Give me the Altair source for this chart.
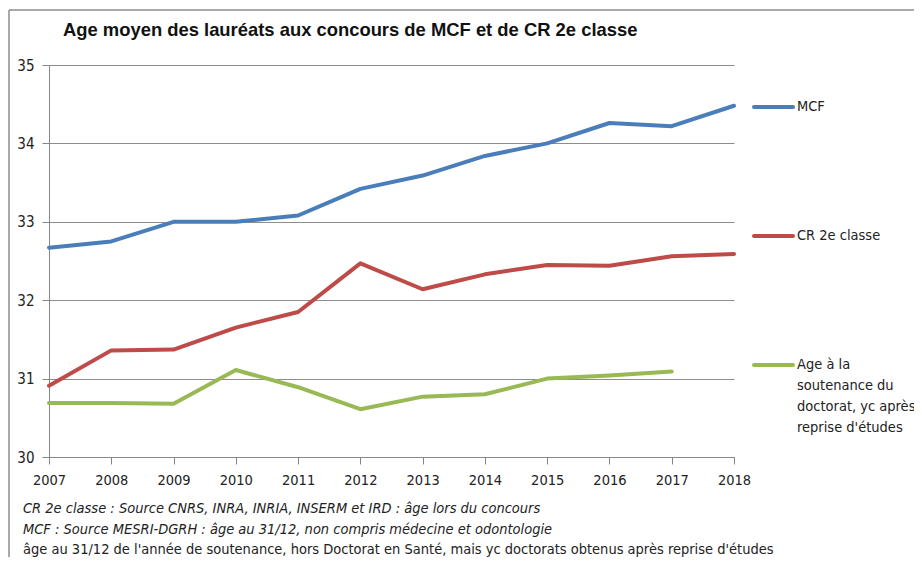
import altair as alt
import pandas as pd

years = list(range(2007, 2019))
mcf = [32.67, 32.75, 33.0, 33.0, 33.08, 33.42, 33.59, 33.84, 34.0, 34.26, 34.22, 34.48]
cr = [30.91, 31.36, 31.37, 31.65, 31.85, 32.47, 32.14, 32.33, 32.45, 32.44, 32.56, 32.59]
these = [30.69, 30.69, 30.68, 31.11, 30.89, 30.61, 30.77, 30.80, 31.00, 31.04, 31.09]

series_names = ["MCF", "CR 2e classe", "Age à la soutenance du doctorat, yc après reprise d'études"]
series_colors = ["#4A7EBB", "#BE4B48", "#98B954"]
legend_labels = [["MCF"], ["CR 2e classe"], ["Age à la", "soutenance du", "doctorat, yc après", "reprise d'études"]]

title = "Age moyen des lauréats aux concours de MCF et de CR 2e classe"
notes = [
    ("CR 2e classe : Source CNRS, INRA, INRIA, INSERM et IRD : âge lors du concours", "italic"),
    ("MCF : Source MESRI-DGRH : âge au 31/12, non compris médecine et odontologie", "italic"),
    ("âge au 31/12 de l'année de soutenance, hors Doctorat en Santé, mais yc doctorats obtenus après reprise d'études", "normal"),
]

rows = []
for name, vals in zip(series_names, [mcf, cr, these]):
    for y, v in zip(years, vals):
        rows.append({"year": y, "age": v, "serie": name})
df = pd.DataFrame(rows)

NARROW = "Liberation Sans Narrow, Arial Narrow, DejaVu Sans Condensed, sans-serif"
W, H = 685, 392

lines = alt.Chart(df).mark_line(strokeWidth=4, strokeCap="round", strokeJoin="round").encode(
    x=alt.X("year:Q", scale=alt.Scale(domain=[2007, 2018], nice=False, zero=False),
            axis=alt.Axis(values=years, format="d", title=None, grid=False,
                          domainColor="#868686", tickColor="#868686", tickSize=7,
                          labelFont=NARROW, labelFontSize=14.5, labelColor="#222222",
                          labelPadding=9, labelOverlap=False, labelFlush=False)),
    y=alt.Y("age:Q", scale=alt.Scale(domain=[30, 35], nice=False, zero=False),
            axis=alt.Axis(values=[30, 31, 32, 33, 34, 35], title=None, grid=True,
                          gridColor="#8c8c8c", gridWidth=1,
                          domainColor="#868686", tickColor="#868686", tickSize=7,
                          labelFont=NARROW, labelFontSize=15, labelColor="#222222",
                          labelPadding=8)),
    color=alt.Color("serie:N", scale=alt.Scale(domain=series_names, range=series_colors), legend=None),
)

layers = [lines]

# frame (top and left edges)
layers.append(alt.Chart().mark_rule(color="#8c8c8c", strokeWidth=1.5).encode(
    x=alt.value(-40), y=alt.value(-55), y2=alt.value(500)))
layers.append(alt.Chart().mark_rule(color="#8c8c8c", strokeWidth=1.5).encode(
    x=alt.value(-40), x2=alt.value(880), y=alt.value(-55)))

# title
layers.append(alt.Chart().mark_text(text=title, align="left", baseline="middle",
                                    font="Liberation Sans", fontWeight="bold", fontSize=18.4,
                                    color="#111111").encode(x=alt.value(14), y=alt.value(-35)))

# legend
leg_y = [42, 171, 300]
for color, labs, ly in zip(series_colors, legend_labels, leg_y):
    layers.append(alt.Chart().mark_rule(color=color, strokeWidth=4, strokeCap="round").encode(
        x=alt.value(705), x2=alt.value(744), y=alt.value(ly)))
    for i, t in enumerate(labs):
        layers.append(alt.Chart().mark_text(text=t, align="left", baseline="middle",
                                            font=NARROW, fontSize=14.5, color="#222222").encode(
            x=alt.value(748), y=alt.value(ly + i * 21)))

# footnotes
for i, (t, style) in enumerate(notes):
    layers.append(alt.Chart().mark_text(text=t, align="left", baseline="middle",
                                        font=NARROW, fontSize=14.5, fontStyle=style,
                                        color="#222222").encode(
        x=alt.value(-26), y=alt.value(444 + i * 20.5)))

chart = alt.layer(*layers).properties(
    width=W, height=H,
    padding={"left": 41, "top": 57, "right": 180, "bottom": 100},
    autosize="none",
).configure_view(strokeWidth=0)

chart.save("out.html", embed_options={"renderer": "svg", "actions": False})
